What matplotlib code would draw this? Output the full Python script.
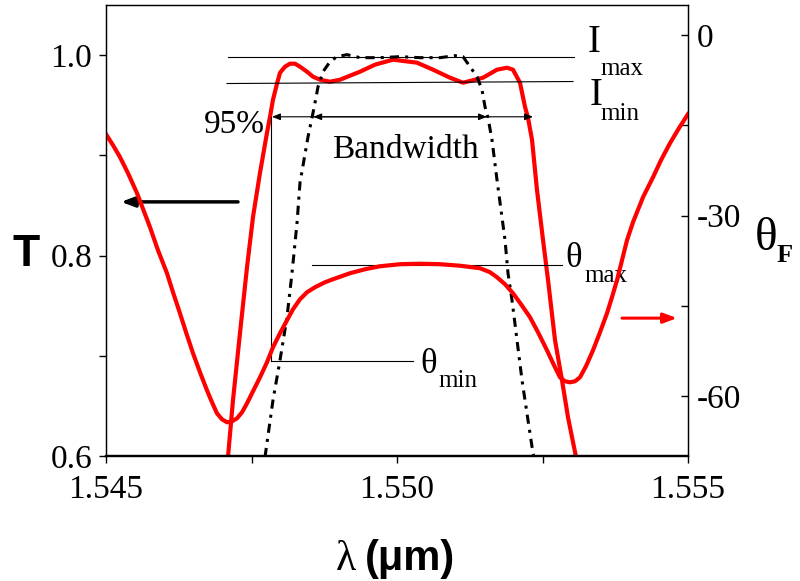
import matplotlib
matplotlib.use("Agg")
import matplotlib.pyplot as plt

plt.rcParams["axes.unicode_minus"] = False

# transmission of the filter (left axis)
wl_T = [1.547096, 1.547182, 1.547302, 1.547423, 1.547526, 1.547646, 1.547766,
        1.547818, 1.547869, 1.547938, 1.547990, 1.548076, 1.548162, 1.548247,
        1.548333, 1.548454, 1.548557, 1.548677, 1.548849, 1.549021, 1.549192,
        1.549364, 1.549622, 1.549931, 1.550344, 1.550619, 1.550911, 1.551134,
        1.551478, 1.551718, 1.551890, 1.551993, 1.552113, 1.552199, 1.552251,
        1.552320, 1.552405, 1.552509, 1.552595, 1.552715, 1.552835, 1.552938,
        1.553076]
T_vals = [0.599, 0.6557, 0.7226, 0.7886, 0.8386, 0.8826, 0.9225,
          0.9385, 0.9555, 0.9715, 0.9825, 0.9885, 0.9915, 0.9915,
          0.9885, 0.9835, 0.9785, 0.9755, 0.9735, 0.9755, 0.9795,
          0.9835, 0.9905, 0.9955, 0.9925, 0.9855, 0.9775, 0.9725,
          0.9775, 0.9855, 0.9875, 0.9855, 0.9725, 0.9485, 0.9375,
          0.9155, 0.8656, 0.8156, 0.7756, 0.7156, 0.6757, 0.6387,
          0.5990]

# Faraday rotation (right axis)
wl_theta = [1.545000, 1.545120, 1.545241, 1.545378, 1.545533, 1.545756, 1.545893,
            1.546048, 1.546151, 1.546271, 1.546375, 1.546495, 1.546615, 1.546735,
            1.546821, 1.546907, 1.546993, 1.547079, 1.547165, 1.547251, 1.547337,
            1.547423, 1.547526, 1.547646, 1.547766, 1.547869, 1.547990, 1.548110,
            1.548213, 1.548333, 1.548454, 1.548591, 1.548763, 1.548900, 1.549192,
            1.549450, 1.549708, 1.550052, 1.550395, 1.550739, 1.551082, 1.551426,
            1.551598, 1.551718, 1.551856, 1.551993, 1.552131, 1.552285, 1.552423,
            1.552577, 1.552698, 1.552801, 1.552887, 1.552973, 1.553058, 1.553144,
            1.553247, 1.553368, 1.553488, 1.553608, 1.553694, 1.553780, 1.553866,
            1.553952, 1.554055, 1.554227, 1.554399, 1.554536, 1.554691, 1.554845,
            1.555000]
theta_vals = [-16.47, -18.30, -20.30, -22.96, -26.29, -31.95, -35.77,
              -39.60, -42.76, -46.26, -49.42, -52.91, -56.07, -59.07,
              -61.06, -62.90, -63.89, -64.39, -64.23, -63.73, -62.73,
              -61.23, -59.23, -56.91, -54.41, -51.91, -49.58, -47.42,
              -45.59, -43.93, -42.76, -41.93, -41.10, -40.60, -39.60,
              -38.94, -38.44, -38.10, -38.02, -38.10, -38.35, -38.77,
              -39.43, -40.27, -41.43, -42.93, -44.76, -46.92, -49.42,
              -52.41, -54.91, -56.91, -57.57, -57.74, -57.57, -56.91,
              -55.07, -52.41, -49.42, -46.26, -43.59, -40.77, -37.44,
              -34.11, -31.11, -26.96, -23.63, -20.80, -17.97, -15.47,
              -13.14]

# ideal flat-top transmission (dash-dot)
wl_ideal = [1.547732, 1.547869, 1.547990, 1.548110, 1.548196, 1.548282, 1.548333,
            1.548471, 1.548540, 1.548591, 1.548643, 1.548729, 1.548849, 1.548969,
            1.549141, 1.549364, 1.549708, 1.550052, 1.550395, 1.550739, 1.550997,
            1.551134, 1.551254, 1.551375, 1.551460, 1.551512, 1.551564, 1.551632,
            1.551718, 1.551856, 1.551907, 1.551976, 1.552062, 1.552148, 1.552251,
            1.552337, 1.552354]
T_ideal = [0.599, 0.6557, 0.6957, 0.7386, 0.7826, 0.8326, 0.8726,
           0.9185, 0.9375, 0.9525, 0.9685, 0.9835, 0.9935, 0.9985,
           1.0005, 0.9975, 0.9975, 0.9985, 0.9975, 0.9975, 0.9995,
           0.9985, 0.9885, 0.9785, 0.9655, 0.9485, 0.9375, 0.9155,
           0.8756, 0.8156, 0.7826, 0.7556, 0.7156, 0.6757, 0.6357,
           0.6027, 0.599]

xticks = [1.545, 1.550, 1.555]
xticklabels = ["1.545", "1.550", "1.555"]
T_ticks = [0.6, 0.8, 1.0]
T_ticklabels = ["0.6", "0.8", "1.0"]
th_ticks = [0, -30, -60]
th_ticklabels = ["0", "-30", "-60"]

serif = "Liberation Serif"
sans = "Liberation Sans"

fig = plt.figure(figsize=(8, 5.81), dpi=100)
ax = fig.add_axes([0.1325, 0.2151, 0.7275, 0.7762])
ax2 = ax.twinx()

ax.plot(wl_T, T_vals, color="#ff0000", lw=3)
ax.plot(wl_ideal, T_ideal, color="black", lw=2.2, linestyle=(0, (3, 2, 1, 2)))
ax2.plot(wl_theta, theta_vals, color="#ff0000", lw=3)

ax.set_xlim(1.545, 1.555)
ax.set_ylim(0.6, 1.05)
ax2.set_ylim(-70, 5)

ax.set_xticks(xticks)
ax.set_xticklabels(xticklabels, fontfamily=serif, fontsize=24)
ax.set_xticks([1.5475, 1.5525], minor=True)
ax.set_yticks(T_ticks)
ax.set_yticklabels(T_ticklabels, fontfamily=serif, fontsize=24)
ax.set_yticks([0.7, 0.9], minor=True)
ax2.set_yticks(th_ticks)
ax2.set_yticklabels(th_ticklabels, fontfamily=serif, fontsize=24)
ax2.set_yticks([-15, -45], minor=True)

ax.tick_params(axis="x", which="both", direction="out", length=5, width=1, pad=8)
ax.tick_params(axis="y", which="both", direction="out", length=5, width=1, pad=5)
ax2.tick_params(axis="y", which="both", direction="in", length=5, width=1, pad=6)

for a in (ax, ax2):
    for s in ("left", "right", "top"):
        a.spines[s].set_linewidth(0.9)
    a.spines["bottom"].set_linewidth(1.6)

# reference lines
line_kw = dict(color="black", lw=0.8)
ax.plot([1.547096, 1.553041], [0.9978, 0.9978], **line_kw)
ax.plot([1.547080, 1.553024], [0.9717, 0.9737], **line_kw)
ax.plot([1.548540, 1.552835], [0.7906, 0.7906], **line_kw)
ax.plot([1.547835, 1.547835], [0.9385, 0.6957], **line_kw)
ax.plot([1.547835, 1.550275], [0.6950, 0.6950], **line_kw)

# bandwidth arrows
arr_kw = dict(arrowstyle="<|-|>,head_length=0.5,head_width=0.2", color="black",
              lw=0.8, shrinkA=0, shrinkB=0)
ax.annotate("", xy=(1.547852, 0.9385), xytext=(1.552337, 0.9385), arrowprops=arr_kw)
ax.annotate("", xy=(1.548560, 0.9385), xytext=(1.551546, 0.9385), arrowprops=arr_kw)

# axis indicator arrows
ax.annotate("", xy=(1.545258, 0.8536), xytext=(1.547268, 0.8536),
            arrowprops=dict(arrowstyle="-|>,head_length=0.8,head_width=0.3",
                            color="black", lw=2.5, shrinkA=0, shrinkB=0))
ax.annotate("", xy=(1.554811, 0.7376), xytext=(1.553866, 0.7376),
            arrowprops=dict(arrowstyle="-|>,head_length=0.8,head_width=0.3",
                            color="#ff0000", lw=2.2, shrinkA=0, shrinkB=0))

# labels inside the plot
ax.text(1.547732, 0.9225, "95%", fontfamily=serif, fontsize=24, ha="right", va="baseline")
ax.text(1.550137, 0.8976, "Bandwidth", fontfamily=serif, fontsize=24, ha="center", va="baseline")
ax.text(1.553282, 1.0035, "I", fontfamily=serif, fontsize=28, ha="left", va="baseline")
ax.text(1.553488, 0.9805, "max", fontfamily=serif, fontsize=18, ha="left", va="baseline")
ax.text(1.553316, 0.9505, "I", fontfamily=serif, fontsize=28, ha="left", va="baseline")
ax.text(1.553488, 0.9355, "min", fontfamily=serif, fontsize=18, ha="left", va="baseline")
ax.text(1.552887, 0.7886, "θ", fontfamily=serif, fontsize=25, ha="left", va="baseline")
ax.text(1.553213, 0.7736, "max", fontfamily=serif, fontsize=18, ha="left", va="baseline")
ax.text(1.550395, 0.6827, "θ", fontfamily=serif, fontsize=25, ha="left", va="baseline")
ax.text(1.550704, 0.6687, "min", fontfamily=serif, fontsize=18, ha="left", va="baseline")

# axis titles
fig.text(26 / 800, 1 - 254 / 581, "T", fontfamily=sans, fontweight="bold",
         fontsize=32, ha="center", va="center")
fig.text(755 / 800, 1 - 250 / 581, "θ", fontfamily=serif, fontsize=34,
         ha="left", va="baseline")
fig.text(777 / 800, 1 - 262 / 581, "F", fontfamily=serif, fontweight="bold",
         fontsize=19, ha="left", va="baseline")
fig.text(346 / 800, 1 - 570 / 581, "λ", fontfamily=serif, fontsize=30,
         ha="center", va="baseline")
fig.text(365 / 800, 1 - 570 / 581, "(μm)", fontfamily=sans, fontweight="bold",
         fontsize=30, ha="left", va="baseline")

fig.savefig("out.png", dpi=100)
